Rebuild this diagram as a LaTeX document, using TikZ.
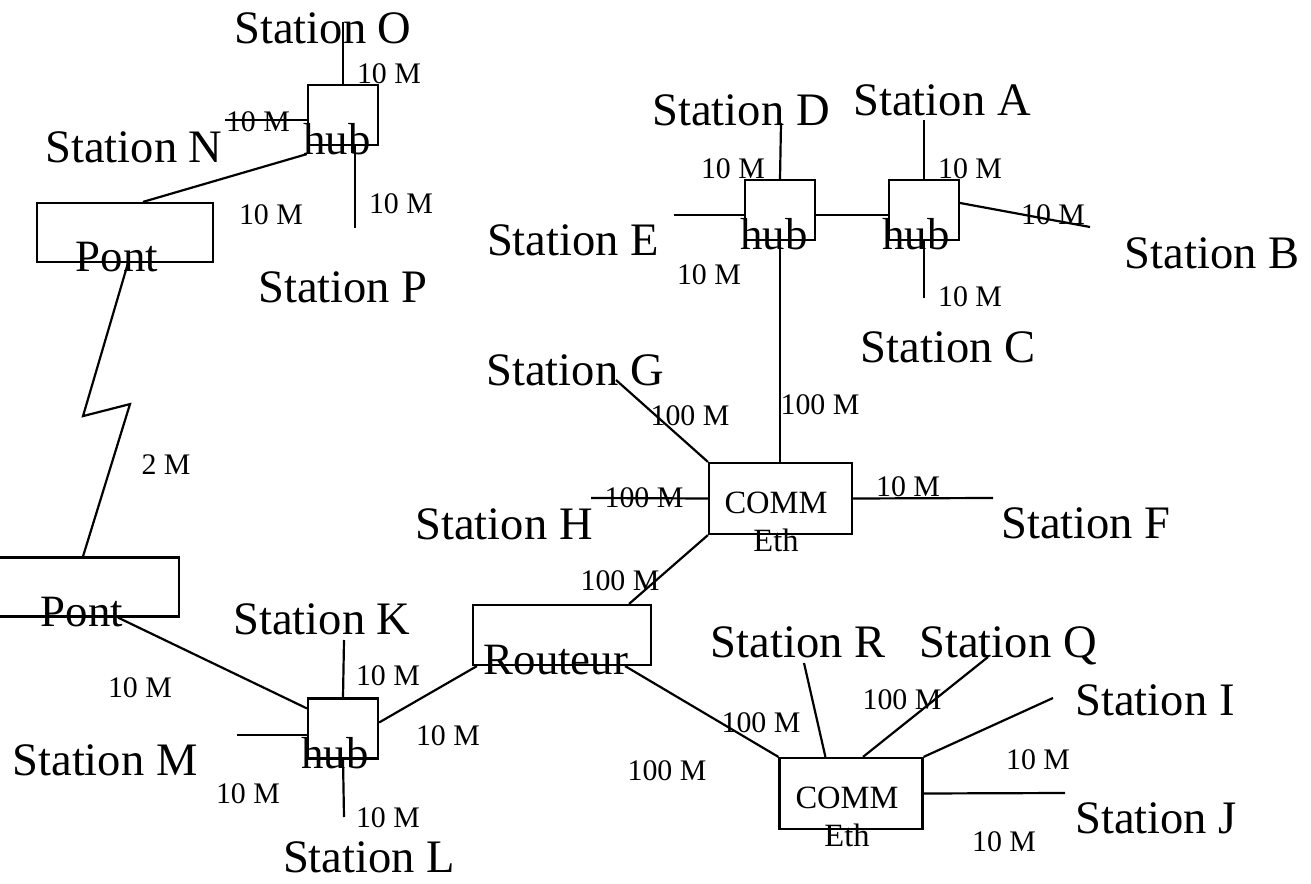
\documentclass[tikz,border=0pt]{standalone}
\usepackage{fontspec}
\setmainfont{Liberation Serif}
\usetikzlibrary{calc}
\tikzset{
  stn/.style={font=\fontsize{26.5}{30}\selectfont, inner sep=0pt, text depth=0pt},
  rate/.style={font=\fontsize{17}{20}\selectfont, inner sep=0pt, text depth=0pt},
  dev/.style={font=\fontsize{25.5}{30}\selectfont, inner sep=0pt, text depth=0pt},
  eth/.style={font=\fontsize{18.5}{22}\selectfont, inner sep=0pt, align=center},
  hubbox/.style={draw, rectangle, inner sep=0pt, minimum width=\hubw, minimum height=\hubh},
  pontbox/.style={draw, rectangle, inner sep=0pt, minimum height=1.18cm},
  commbox/.style={draw, rectangle, inner sep=0pt, minimum width=2.86cm, minimum height=1.42cm},
}
\def\hubw{1.4cm}
\def\hubh{1.2cm}

\begin{document}
\begin{tikzpicture}[x=0.02cm, y=-0.02cm, line width=1.25pt]
\useasboundingbox (0,0) rectangle (1311,884);
\clip (0,0) rectangle (1311,884);

% ── equipment boxes ──────────────────────────────────────────────────────────
\node[hubbox] (hubN) at (343,115) {};
\node[hubbox] (hubD) at (780,210) {};
\node[hubbox] (hubA) at (924,210) {};
\node[hubbox] (hubK) at (343,728.5) {};
\node[pontbox, minimum width=3.52cm] (pontA) at (125,232.5) {};
\node[pontbox, minimum width=4.18cm] (pontB) at (74.5,587) {};
\node[commbox] (comm1) at (780.5,498.5) {};
\node[commbox] (comm2) at (851,793.5) {};
\node[draw, inner sep=0pt, minimum width=3.56cm, minimum height=1.2cm] (routeur) at (562,635) {};

% box texts
\node[dev] (hubNt) at (337,139) {hub};
\node[dev] (hubDt) at (774,234) {hub};
\node[dev] (hubAt) at (916,234) {hub};
\node[dev] (hubKt) at (335,753) {hub};
\node[dev] (pontAt) at (117,257) {Pont};
\node[dev] (pontBt) at (82,612) {Pont};
\node[dev] (routeurt) at (556,660) {Routeur};
\node[eth] (comm1t) at (776,522) {COMM\\Eth};
\node[eth] (comm2t) at (847,817) {COMM\\Eth};

% ── free ends of the station lines ───────────────────────────────────────────
\coordinate (cO) at (343,22);
\coordinate (cN) at (225,120);
\coordinate (cP) at (355,228);
\coordinate (cK) at (344,640);
\coordinate (cM) at (237,735);
\coordinate (cL) at (344,817);
\coordinate (cG) at (616,380);
\coordinate (cH) at (591,498);
\coordinate (cF) at (993,498);
\coordinate (cD) at (781,123);
\coordinate (cE) at (674,215);
\coordinate (cA) at (924,120);
\coordinate (cB) at (1090,227);
\coordinate (cC) at (924,298);
\coordinate (cR) at (804,663);
\coordinate (cQ) at (988,657);
\coordinate (cI) at (1053,698);
\coordinate (cJ) at (1065,793);

% ── links ────────────────────────────────────────────────────────────────────
% top left hub
\draw (hubN.north) -- (cO);
\draw (cN -| hubN.west) -- (cN);
\draw (cP |- hubN.south) -- (cP);
\draw ($(pontA.north)+(18,0)$) -- ($(hubN.south west)+(0,8)$);
% 2 M line between the bridges
\draw ($(pontA.south)+(3,0)$) -- ++(-45,153) -- ++(47,-12) -- ($(pontB.north)+(8.5,0)$);
% bottom left hub
\draw ($(pontB.south)+(43.5,0)$) -- ($(hubK.north west)+(0,11)$);
\draw (hubK.north) -- (cK);
\draw (cM -| hubK.west) -- (cM);
\draw (hubK.south) -- (cL);
\draw ($(hubK.east)+(0,-6)$) -- ($(routeur.south west)+(5,0)$);
% upper switch
\draw ($(routeur.north east)+(-23,0)$) -- (comm1.south west);
\draw (hubD.south) -- (hubD.south |- comm1.north);
\draw (cG) -- (comm1.north west);
\draw (cH) -- (comm1.west);
\draw (comm1.east) -- (cF);
% top right hubs
\draw (hubD.north) -- (cD);
\draw (cE -| hubD.west) -- (cE);
\draw ($(hubD.east)+(0,5)$) -- ($(hubA.west)+(0,5)$);
\draw (hubA.north) -- (cA);
\draw ($(hubA.east)+(0,-7)$) -- (cB);
\draw (hubA.south) -- (cC);
% lower switch
\draw ($(routeur.south east)+(-27,0)$) -- (comm2.north west);
\draw (cR) -- ($(comm2.north west)+(47,0)$);
\draw (cQ) -- ($(comm2.north)+(12,0)$);
\draw (comm2.north east) -- (cI);
\draw (comm2.east) -- (cJ);

% ── stations ─────────────────────────────────────────────────────────────────
\node[stn] (sO) at (323,28) {Station O};
\node[stn] (sN) at (134,147) {Station N};
\node[stn] (sP) at (343,287) {Station P};
\node[stn] (sD) at (741,110) {Station D};
\node[stn] (sA) at (942,100) {Station A};
\node[stn] (sE) at (573,240) {Station E};
\node[stn] (sB) at (1212,253) {Station B};
\node[stn] (sC) at (948,347) {Station C};
\node[stn] (sG) at (575,370) {Station G};
\node[stn] (sH) at (504,524) {Station H};
\node[stn] (sF) at (1086,523) {Station F};
\node[stn] (sK) at (322,619) {Station K};
\node[stn] (sM) at (105,760) {Station M};
\node[stn] (sL) at (369,857) {Station L};
\node[stn] (sR) at (798,642) {Station R};
\node[stn] (sQ) at (1008,642) {Station Q};
\node[stn] (sI) at (1155,700) {Station I};
\node[stn] (sJ) at (1156,818) {Station J};

% ── rates ────────────────────────────────────────────────────────────────────
\node[rate] (rO) at (389,74) {10 M};
\node[rate] (rN) at (258,122) {10 M};
\node[rate] (rP) at (401,204) {10 M};
\node[rate] (rPont) at (271,215) {10 M};
\node[rate] (rWan) at (166,465) {2 M};
\node[rate] (rPontB) at (140,688) {10 M};
\node[rate] (rK) at (388,676) {10 M};
\node[rate] (rM) at (248,794) {10 M};
\node[rate] (rL) at (388,818) {10 M};
\node[rate] (rHubR) at (448,736) {10 M};
\node[rate] (rRC1) at (620,581) {100 M};
\node[rate] (rG) at (690,416) {100 M};
\node[rate] (rUp) at (820,405) {100 M};
\node[rate] (rH) at (644,498) {100 M};
\node[rate] (rF) at (908,487) {10 M};
\node[rate] (rD) at (733,169) {10 M};
\node[rate] (rE) at (709,275) {10 M};
\node[rate] (rA) at (970,169) {10 M};
\node[rate] (rB) at (1053,215) {10 M};
\node[rate] (rC) at (970,297) {10 M};
\node[rate] (rRC2) at (761,723) {100 M};
\node[rate] (rR) at (667,771) {100 M};
\node[rate] (rQ) at (902,700) {100 M};
\node[rate] (rI) at (1038,760) {10 M};
\node[rate] (rJ) at (1004,842) {10 M};

\end{tikzpicture}
\end{document}
